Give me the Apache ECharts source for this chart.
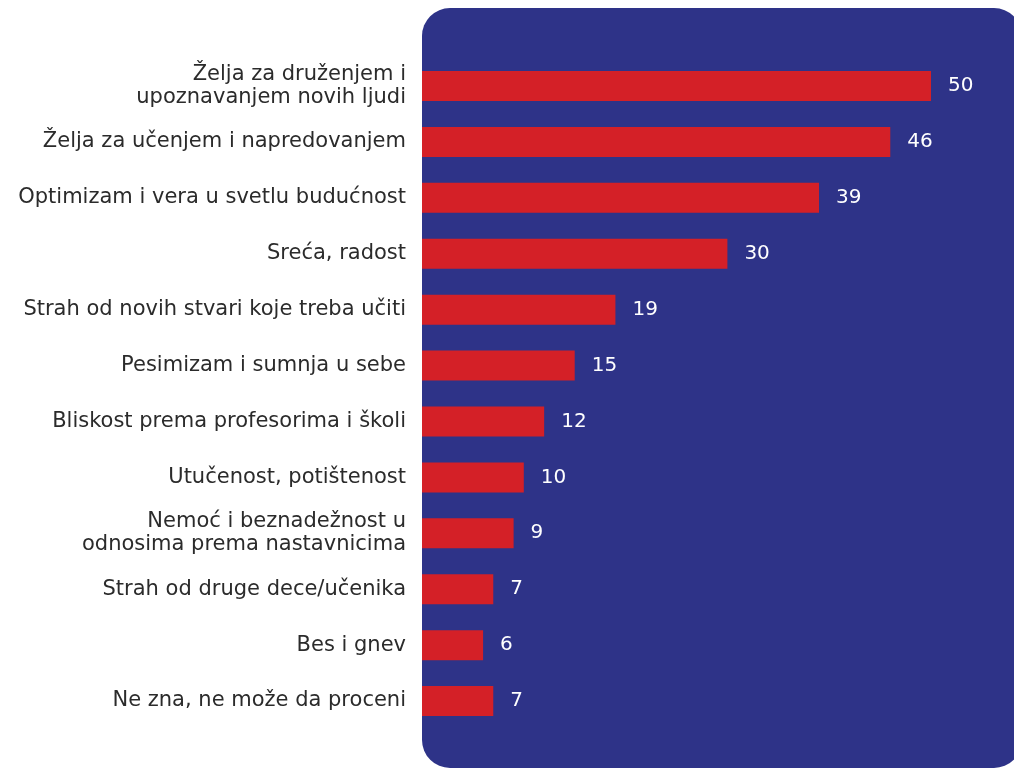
<!DOCTYPE html>
<html>
<head>
<meta charset="utf-8">
<script src="https://cdn.jsdelivr.net/npm/echarts@6/dist/echarts.min.js"></script>
<style>
  html, body { margin: 0; padding: 0; background: #ffffff; }
  #main { width: 1014px; height: 768px; }
</style>
</head>
<body>
<div id="main"></div>
<script>
// categories top to bottom
var categories = [
    'Želja za druženjem i\nupoznavanjem novih ljudi',
    'Želja za učenjem i napredovanjem',
    'Optimizam i vera u svetlu budućnost',
    'Sreća, radost',
    'Strah od novih stvari koje treba učiti',
    'Pesimizam i sumnja u sebe',
    'Bliskost prema profesorima i školi',
    'Utučenost, potištenost',
    'Nemoć i beznadežnost u\nodnosima prema nastavnicima',
    'Strah od druge dece/učenika',
    'Bes i gnev',
    'Ne zna, ne može da proceni'
];
var values = [50, 46, 39, 30, 19, 15, 12, 10, 9, 7, 6, 7];

var myChart = echarts.init(document.getElementById('main'));

var option = {
    backgroundColor: '#ffffff',
    animation: false,
    graphic: [
        {
            type: 'rect',
            z: -10,
            shape: { x: 422, y: 8, width: 600, height: 760, r: 28 },
            style: { fill: '#2E3388' }
        }
    ],
    grid: {
        left: 422,
        right: 83,
        top: 58,
        bottom: 39
    },
    xAxis: {
        type: 'value',
        min: 0,
        max: 50,
        show: false
    },
    yAxis: {
        type: 'category',
        inverse: true,
        data: categories,
        axisLine: { show: false },
        axisTick: { show: false },
        splitLine: { show: false },
        axisLabel: {
            margin: 16,
            color: '#2b2b2b',
            fontSize: 21,
            lineHeight: 23,
            fontFamily: 'DejaVu Sans'
        }
    },
    series: [
        {
            type: 'bar',
            data: values,
            barWidth: 30,
            itemStyle: { color: '#D42027' },
            label: {
                show: true,
                position: 'right',
                distance: 17,
                color: '#ffffff',
                fontSize: 20,
                fontFamily: 'DejaVu Sans'
            }
        }
    ]
};

myChart.setOption(option);
</script>
</body>
</html>
